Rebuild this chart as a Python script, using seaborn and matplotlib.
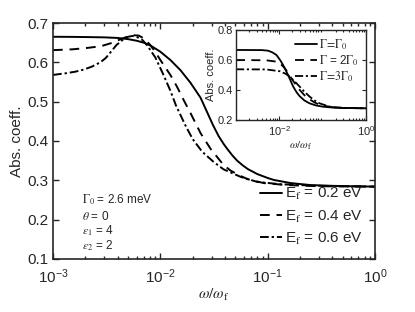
import numpy as np
import pandas as pd
import matplotlib
matplotlib.use("Agg")
import matplotlib.pyplot as plt
import seaborn as sns

sns.set_style("ticks")
plt.rcParams['font.family'] = ['Liberation Sans', 'DejaVu Sans']
plt.rcParams['mathtext.fontset'] = 'stix'
plt.rcParams['xtick.direction'] = 'in'
plt.rcParams['ytick.direction'] = 'in'

# ---- main panel data (omega / omega_f, absorption) ----
x_02 = [0.001, 0.0015, 0.002, 0.003, 0.004, 0.005, 0.006, 0.007, 0.00807, 0.01, 0.0124, 0.0154,
        0.0191, 0.0237, 0.027, 0.031, 0.035, 0.039, 0.042, 0.047, 0.052, 0.058, 0.065, 0.08,
        0.1, 0.114, 0.164, 0.25, 0.4, 0.6, 1.0]
y_02 = [0.665, 0.6647, 0.6643, 0.6635, 0.662, 0.659, 0.655, 0.650, 0.643, 0.627, 0.606, 0.58,
        0.548, 0.51, 0.476, 0.44, 0.412, 0.392, 0.38, 0.363, 0.35, 0.339, 0.329, 0.316,
        0.306, 0.301, 0.293, 0.288, 0.286, 0.285, 0.284]

x_04 = [0.001, 0.0015, 0.002, 0.0028, 0.0035, 0.0042, 0.005, 0.0056, 0.0063, 0.007, 0.008, 0.009,
        0.01, 0.0124, 0.0143, 0.0165, 0.0191, 0.0237, 0.0294, 0.0388, 0.045, 0.055, 0.065,
        0.092, 0.15, 0.3, 1.0]
y_04 = [0.631, 0.633, 0.636, 0.641, 0.649, 0.658, 0.666, 0.669, 0.668, 0.661, 0.645, 0.626,
        0.606, 0.568, 0.538, 0.504, 0.471, 0.42, 0.38, 0.339, 0.325, 0.312, 0.303,
        0.293, 0.288, 0.285, 0.284]

x_06 = [0.001, 0.0013, 0.0016, 0.0019, 0.0023, 0.00276, 0.0031, 0.0034, 0.0039, 0.0045, 0.005,
        0.0055, 0.006, 0.0068, 0.0075, 0.009, 0.0107, 0.0124, 0.014, 0.0171, 0.02, 0.0245,
        0.0313, 0.0388, 0.0558, 0.08, 0.133, 0.3, 1.0]
y_06 = [0.568, 0.572, 0.576, 0.581, 0.589, 0.600, 0.611, 0.624, 0.644, 0.658, 0.665,
        0.667, 0.665, 0.657, 0.644, 0.612, 0.568, 0.528, 0.49, 0.44, 0.405, 0.373,
        0.347, 0.328, 0.309, 0.296, 0.29, 0.286, 0.284]

# ---- inset data ----
xi_1 = [0.001, 0.004, 0.0055, 0.007, 0.0086, 0.0104, 0.0122, 0.0159, 0.0207, 0.025, 0.0296,
        0.038, 0.05, 0.07, 0.1, 0.2, 1.0]
yi_1 = [0.667, 0.666, 0.662, 0.65, 0.633, 0.60, 0.567, 0.50, 0.425, 0.385, 0.358,
        0.33, 0.311, 0.297, 0.289, 0.281, 0.278]
xi_2 = [0.001, 0.005, 0.0086, 0.011, 0.0134, 0.016, 0.019, 0.024, 0.0296, 0.038, 0.05, 0.065,
        0.085, 0.15, 0.3, 1.0]
yi_2 = [0.60, 0.598, 0.589, 0.57, 0.545, 0.513, 0.478, 0.435, 0.40, 0.365, 0.338, 0.317,
        0.302, 0.287, 0.28, 0.278]
xi_3 = [0.001, 0.005, 0.0103, 0.014, 0.0174, 0.023, 0.0296, 0.038, 0.05, 0.065, 0.085, 0.144,
        0.3, 1.0]
yi_3 = [0.538, 0.537, 0.525, 0.508, 0.489, 0.455, 0.422, 0.388, 0.356, 0.33, 0.311, 0.289,
        0.281, 0.278]

main_labels = [r'E$_\mathrm{f}$ = 0.2 eV', r'E$_\mathrm{f}$ = 0.4 eV', r'E$_\mathrm{f}$ = 0.6 eV']
inset_labels = [r'$\Gamma\!=\!\Gamma_0$', r'$\Gamma$ = 2$\Gamma_0$', r'$\Gamma\!=\!3\Gamma_0$']

styles = [dict(linestyle='-'), dict(linestyle=(0, (5, 3.5))), dict(linestyle=(0, (4.5, 1.5, 1.2, 1.5)))]

fig = plt.figure(figsize=(4.15, 3.12), dpi=100)
ax = fig.add_axes([53/415, 1 - 259/312, (375-53)/415, (259-23)/312])

for xs, ys, lab, st in zip([x_02, x_04, x_06], [y_02, y_04, y_06], main_labels, styles):
    sns.lineplot(x=xs, y=ys, ax=ax, color='black', lw=1.4, label=lab, sort=False, **st)

ax.set_xscale('log')
ax.set_xlim(1e-3, 1)
ax.set_ylim(0.1, 0.7)
ax.set_yticks([0.1, 0.2, 0.3, 0.4, 0.5, 0.6, 0.7])
ax.set_yticklabels(['0.1', '0.2', '0.3', '0.4', '0.5', '0.6', '0.7'])
ax.tick_params(which='both', top=True, right=True, labelsize=11, width=1)
ax.tick_params(which='major', length=4)
ax.tick_params(which='minor', length=2)
ax.tick_params(axis='x', pad=6)
for s in ax.spines.values():
    s.set_linewidth(1.2)
ax.set_ylabel('Abs. coeff.', fontsize=11, labelpad=2)
ax.set_xlabel(r'$\omega/\omega_\mathrm{f}$', fontsize=11, labelpad=1)

leg = ax.legend(loc='lower right', frameon=False, fontsize=11, handlelength=1.4,
                handletextpad=0.2, labelspacing=0.4, borderaxespad=0.4)

ax.text(0.09, 0.235, r'$\Gamma_0$ = 2.6 meV', transform=ax.transAxes, fontsize=8.5)
ax.text(0.09, 0.165, r'$\theta$ = 0', transform=ax.transAxes, fontsize=8.5)
ax.text(0.09, 0.105, r'$\epsilon_1$ = 4', transform=ax.transAxes, fontsize=8.5)
ax.text(0.09, 0.04, r'$\epsilon_2$ = 2', transform=ax.transAxes, fontsize=8.5)

# inset
axi = fig.add_axes([236/415, 1 - 120/312, (366-236)/415, (120-30)/312])
for xs, ys, lab, st in zip([xi_1, xi_2, xi_3], [yi_1, yi_2, yi_3], inset_labels, styles):
    sns.lineplot(x=xs, y=ys, ax=axi, color='black', lw=1.3, label=lab, sort=False, **st)
axi.set_xscale('log')
axi.set_xlim(1e-3, 1)
axi.set_ylim(0.2, 0.8)
axi.set_yticks([0.2, 0.4, 0.6, 0.8])
axi.set_yticklabels(['0.2', '0.4', '0.6', '0.8'])
axi.set_xticks([1e-2, 1])
axi.tick_params(which='both', top=True, right=True, labelsize=8, width=0.8, pad=2)
axi.tick_params(axis='x', pad=3)
axi.tick_params(which='major', length=3)
axi.tick_params(which='minor', length=1.5)
for s in axi.spines.values():
    s.set_linewidth(1.0)
axi.set_ylabel('Abs. coeff.', fontsize=8, labelpad=1)
axi.set_xlabel(r'$\omega/\omega_\mathrm{f}$', fontsize=8, labelpad=1)
axi.legend(loc='upper right', frameon=False, fontsize=8.5, handlelength=1.8,
           handletextpad=0.2, labelspacing=0.15, borderaxespad=0.2)

fig.savefig('out.png', dpi=100)
